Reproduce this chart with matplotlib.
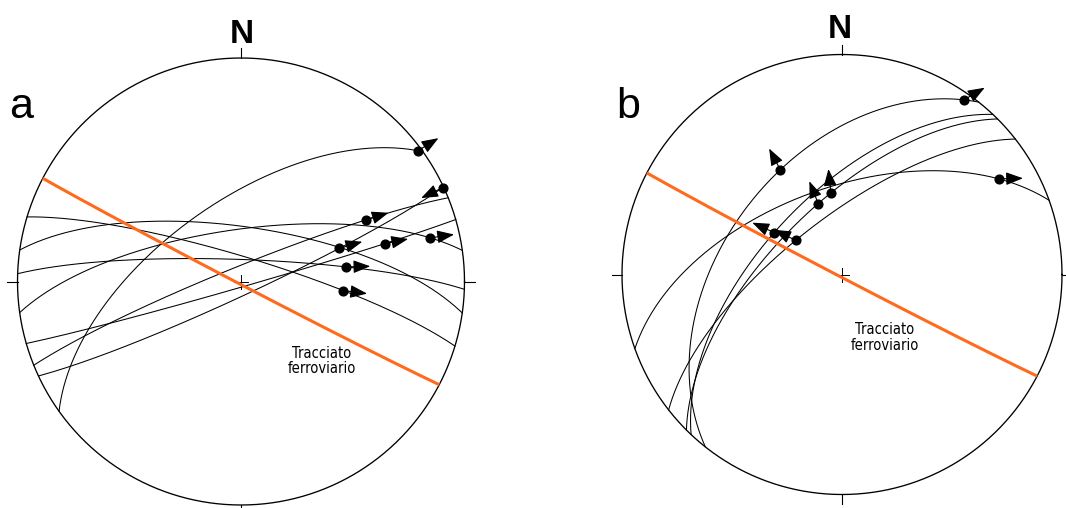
import numpy as np
import matplotlib
matplotlib.use("Agg")
import matplotlib.pyplot as plt
from matplotlib import font_manager

# ---------------- data (Schmidt net, lower hemisphere) ----------------
# panel a: fault planes (dip direction, dip)
a_dipdir = [16.8, 8.1, 2.0, 352.0, 163.9, 338.0, 155.0, 324.5]
a_dip = [81.0, 70.0, 82.0, 71.0, 88.0, 84.5, 85.0, 61.0]
# striae: plane index, rake (deg from strike), slip-arrow azimuth
a_lin_plane = [7, 6, 5, 6, 4, 3, 2, 0]
a_lin_rake = [178.0, 0.5, 142.0, 52.0, 34.0, 165.0, 128.6, 127.0]
a_arrow_az = [58.5, 244.2, 72.6, 73.8, 78.6, 82.0, 88.5, 97.3]

# panel b
b_dipdir = [308.4, 340.3, 322.0, 315.0, 313.3]
b_dip = [46.0, 57.5, 69.4, 64.7, 60.8]
b_lin_plane = [0, 1, 0, 3, 3, 2, 4]
b_lin_rake = [175.0, 159.0, 105.0, 108.0, 102.0, 84.4, 84.3]
b_arrow_az = [59.7, 88.5, 332.3, 354.1, 338.4, 296.0, 294.3]

# railway trace (near-vertical plane)
rail_dipdir = 207.5
rail_dip = 89.0

panel_labels = ["a", "b"]
rail_label = "Tracciato\nferroviario"
ORANGE = "#ff6a1c"

# choose a narrow sans font if one is installed
_fonts = font_manager.fontManager.ttflist
_names = {f.name for f in _fonts}
if "Liberation Sans Narrow" in _names:
    small_font = dict(family=["Liberation Sans Narrow", "DejaVu Sans"], fontsize=11.5)
elif any(f.name == "DejaVu Sans" and f.stretch == "condensed" for f in _fonts):
    small_font = dict(family=["DejaVu Sans"], fontstretch="condensed", fontsize=10.5)
else:
    small_font = dict(family=["Liberation Sans", "DejaVu Sans"], fontsize=10.3)


def project(v):
    v = np.atleast_2d(v)
    E, N, D = v[:, 0], v[:, 1], v[:, 2]
    plunge = np.arcsin(np.clip(D, -1, 1))
    rho = np.sqrt(2) * np.sin((np.pi / 2 - plunge) / 2)
    h = np.hypot(E, N)
    h[h == 0] = 1
    return rho * E / h, rho * N / h


def plane_vectors(dd, dip):
    s = np.radians(dd - 90)
    d = np.radians(dd)
    dp = np.radians(dip)
    hs = np.array([np.sin(s), np.cos(s), 0.0])
    dv = np.array([np.cos(dp) * np.sin(d), np.cos(dp) * np.cos(d), np.sin(dp)])
    return hs, dv


def great_circle(dd, dip, n=361):
    hs, dv = plane_vectors(dd, dip)
    phi = np.radians(np.linspace(0, 180, n))
    v = np.outer(np.cos(phi), hs) + np.outer(np.sin(phi), dv)
    return project(v)


def lineation(dd, dip, rake):
    hs, dv = plane_vectors(dd, dip)
    r = np.radians(rake)
    x, y = project(np.cos(r) * hs + np.sin(r) * dv)
    return x[0], y[0]


W, H = 1066, 508
fig = plt.figure(figsize=(W / 100, H / 100), dpi=100)

# panel geometry in pixels: (left, right, center x, center y, radius)
panels = [(0, 533, 241.0, 281.5, 223.5), (533, 1066, 842.0, 274.5, 220.0)]


def make_axes(x0, x1, cx, cy, R):
    ax = fig.add_axes([x0 / W, 0, (x1 - x0) / W, 1])
    ax.set_xlim((x0 - cx) / R, (x1 - cx) / R)
    ax.set_ylim((cy - H) / R, cy / R)
    ax.axis("off")
    return ax


def draw_net(ax, R, dipdirs, dips, lin_plane, lin_rake, arrow_az):
    t = np.linspace(0, 2 * np.pi, 721)
    ax.plot(np.cos(t), np.sin(t), color="black", lw=0.95, zorder=3)
    tk = 1.045
    for ux, uy in [(0, 1), (0, -1), (1, 0), (-1, 0)]:
        ax.plot([ux, ux * tk], [uy, uy * tk], color="black", lw=0.8, clip_on=False)
    c = 7.0 / R
    ax.plot([-c, c], [0, 0], color="black", lw=0.7)
    ax.plot([0, 0], [-c, c], color="black", lw=0.7)
    for dd, dp in zip(dipdirs, dips):
        x, y = great_circle(dd, dp)
        ax.plot(x, y, color="black", lw=0.75, zorder=2)
    x, y = great_circle(rail_dipdir, rail_dip)
    ax.plot(x, y, color=ORANGE, lw=2.2, zorder=4, solid_capstyle="butt")
    L = 24.0 / R
    for p, rk, az in zip(lin_plane, lin_rake, arrow_az):
        lx, ly = lineation(dipdirs[p], dips[p], rk)
        ex = lx + L * np.sin(np.radians(az))
        ey = ly + L * np.cos(np.radians(az))
        ax.annotate("", xy=(ex, ey), xytext=(lx, ly),
                    arrowprops=dict(arrowstyle="-|>,head_length=1.05,head_width=0.4",
                                    color="black", lw=0.8, shrinkA=0, shrinkB=0,
                                    mutation_scale=10), zorder=6)
        ax.plot(lx, ly, "o", color="black", ms=6.3, zorder=7)


# panel a
x0, x1, cx, cy, R = panels[0]
axa = make_axes(x0, x1, cx, cy, R)
draw_net(axa, R, a_dipdir, a_dip, a_lin_plane, a_lin_rake, a_arrow_az)
axa.text((241.5 - cx) / R, (cy - 43.0) / R, "N", ha="center", va="baseline",
         fontsize=24, fontweight="bold", family=["Liberation Sans", "DejaVu Sans"])
axa.text((21.4 - cx) / R, (cy - 117.8) / R, panel_labels[0], ha="center", va="baseline",
         fontsize=31, family=["Liberation Sans", "DejaVu Sans"])
axa.text((322.0 - cx) / R, (cy - 361.0) / R, rail_label, ha="center", va="center",
         linespacing=1.05, **small_font)

# panel b
x0, x1, cx, cy, R = panels[1]
axb = make_axes(x0, x1, cx, cy, R)
draw_net(axb, R, b_dipdir, b_dip, b_lin_plane, b_lin_rake, b_arrow_az)
axb.text((840.0 - cx) / R, (cy - 37.7) / R, "N", ha="center", va="baseline",
         fontsize=24, fontweight="bold", family=["Liberation Sans", "DejaVu Sans"])
axb.text((628.6 - cx) / R, (cy - 117.8) / R, panel_labels[1], ha="center", va="baseline",
         fontsize=31, family=["Liberation Sans", "DejaVu Sans"])
axb.text((885.0 - cx) / R, (cy - 337.5) / R, rail_label, ha="center", va="center",
         linespacing=1.05, **small_font)

fig.savefig("out.png", dpi=100, facecolor="white")
